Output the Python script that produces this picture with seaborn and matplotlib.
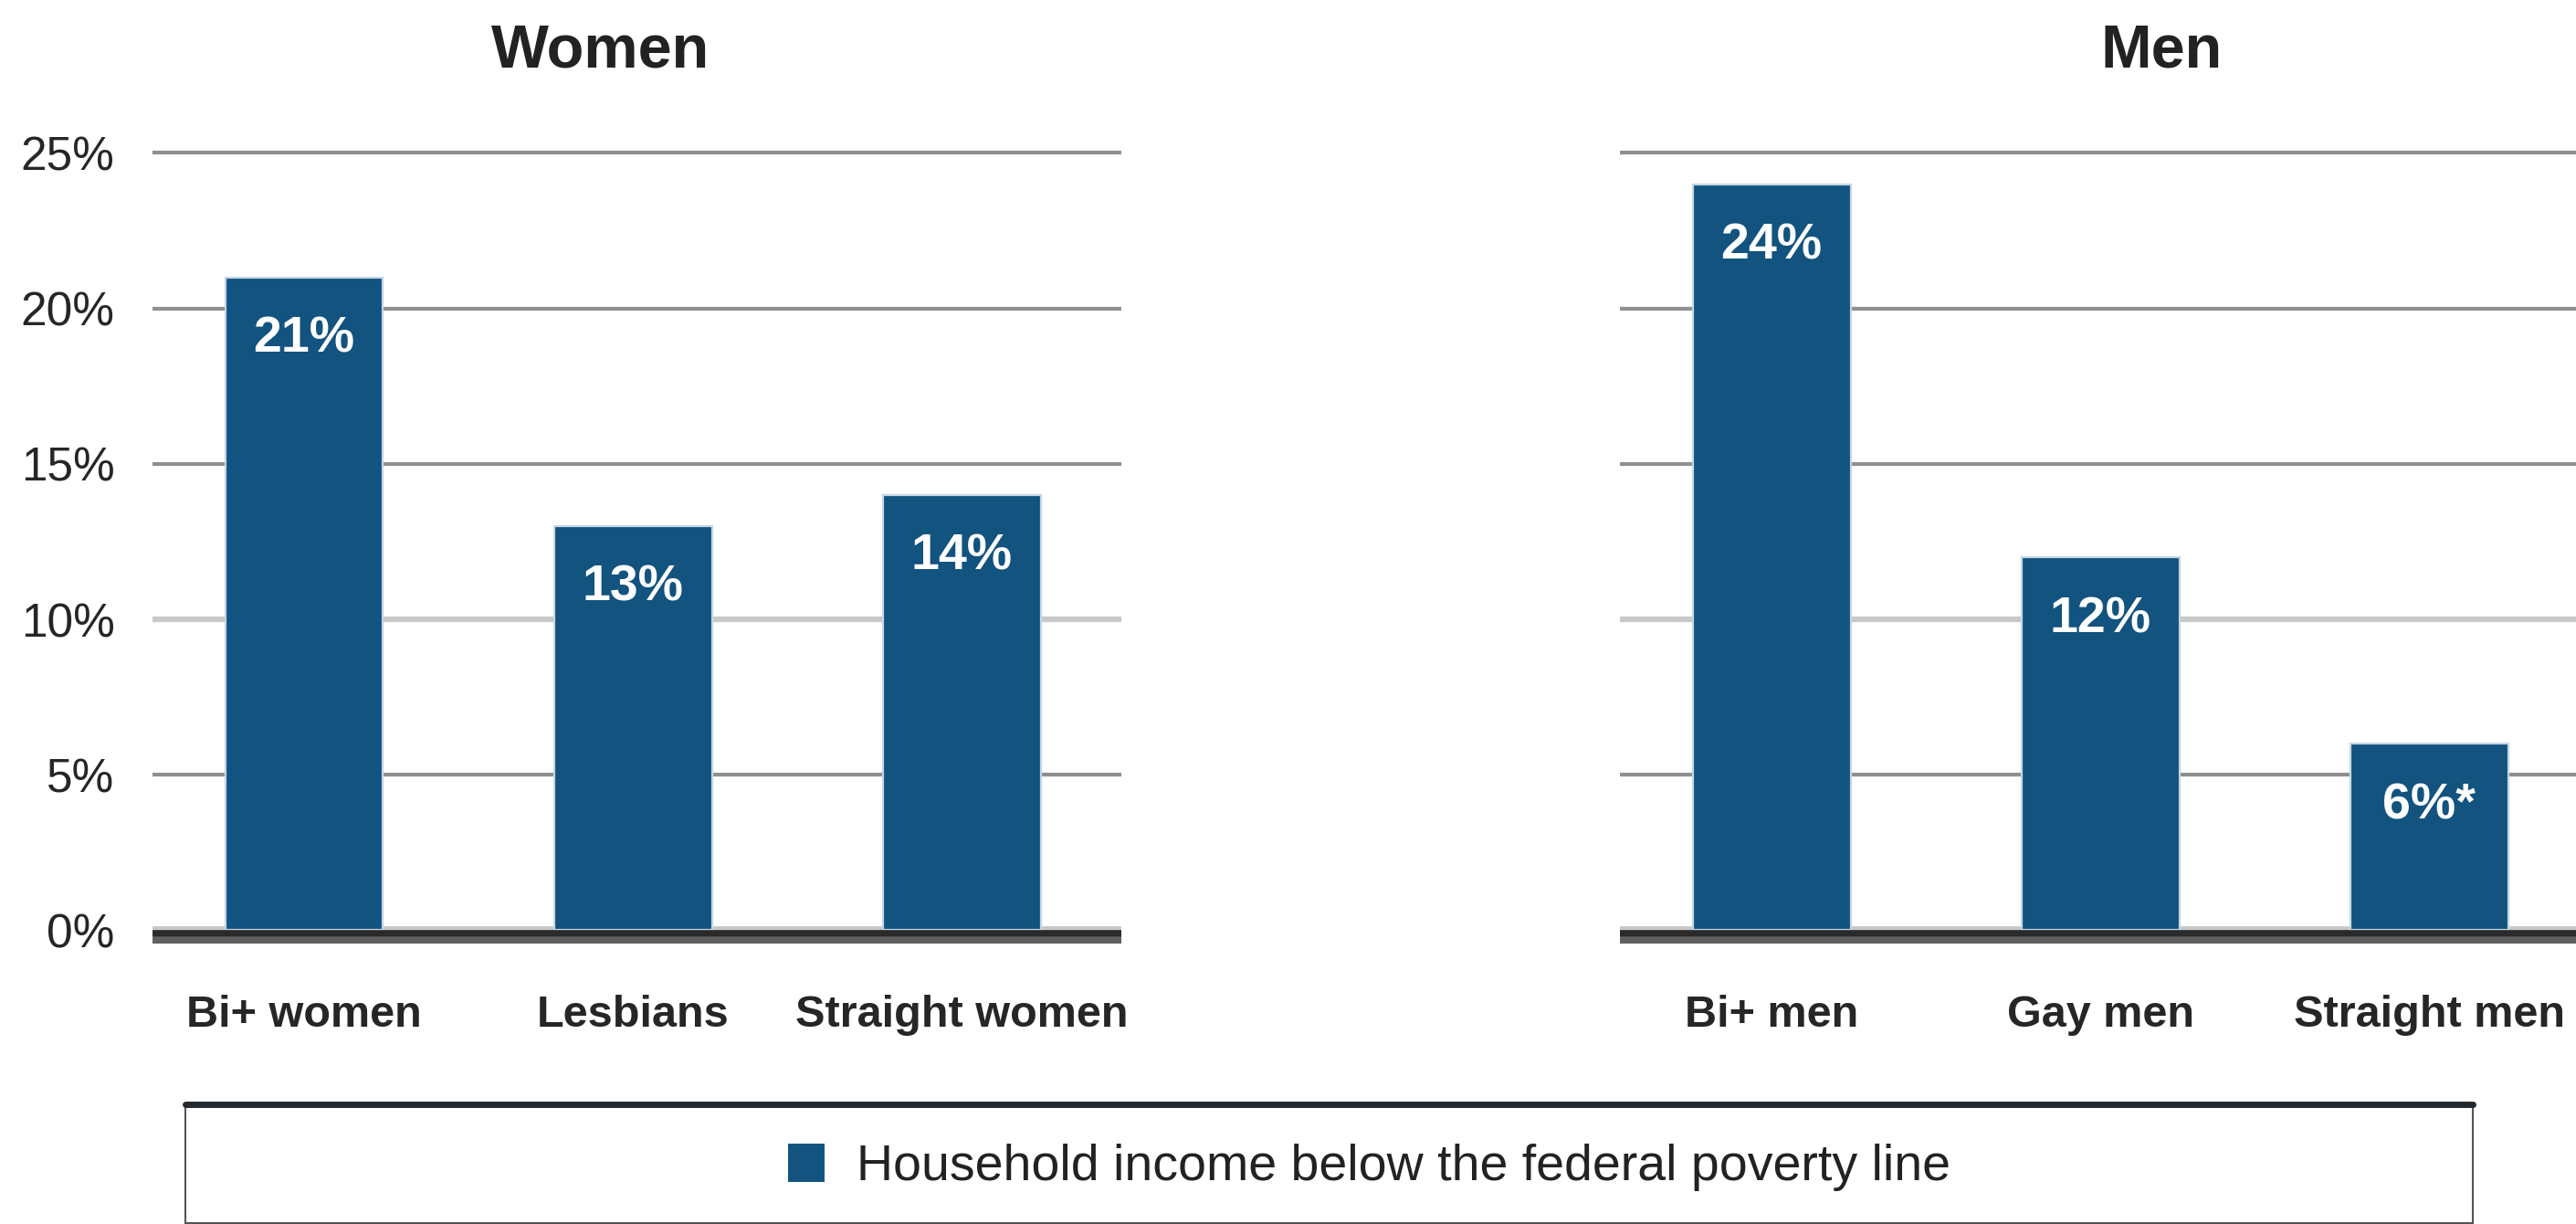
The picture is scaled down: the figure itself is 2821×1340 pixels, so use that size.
import pandas as pd
import matplotlib
matplotlib.use("Agg")
import matplotlib.pyplot as plt
from matplotlib.patches import Rectangle, Patch
from matplotlib.lines import Line2D
import seaborn as sns

women_groups = ["Bi+ women", "Lesbians", "Straight women"]
women_values = [21, 13, 14]
women_labels = ["21%", "13%", "14%"]

men_groups = ["Bi+ men", "Gay men", "Straight men"]
men_values = [24, 12, 6]
men_labels = ["24%", "12%", "6%*"]

y_ticks = [0, 5, 10, 15, 20, 25]
legend_label = "Household income below the federal poverty line"

BAR = "#12537f"
EDGE = "#c6d6e4"
FONT = ["Liberation Sans", "DejaVu Sans"]

sns.set_theme(style="white")
plt.rcParams["font.family"] = FONT
plt.rcParams["text.color"] = "#222222"

fig = plt.figure(figsize=(28.21, 13.40), dpi=100)

y0, y1 = -0.6, 25.4
unit = 0.635 / 25
ax_bottom = 0.240 + y0 * unit
ax_height = (y1 - y0) * unit
ax_w = 0.376
ax_left = fig.add_axes([0.0593, ax_bottom, ax_w, ax_height])
ax_right = fig.add_axes([0.629, ax_bottom, ax_w, ax_height])


def draw_panel(ax, groups, values, labels, show_y):
    df = pd.DataFrame({"group": groups, "value": values})
    sns.barplot(data=df, x="group", y="value", ax=ax, color=BAR, width=0.48,
                saturation=1, edgecolor=EDGE, linewidth=1.6, zorder=3)
    ax.set_xlim(-0.46, 2.485)
    ax.set_ylim(y0, y1)
    for y in y_ticks[1:]:
        if y == 10:
            ax.axhline(y, color="#c8c8c8", lw=4.5, zorder=1)
        else:
            ax.axhline(y, color="#8f8f8f", lw=3.0, zorder=1)
    # baseline: light band, dark line, grey shadow
    ax.axhline(0.07, color="#c8c8c8", lw=3.5, zorder=1)
    ax.axhline(-0.10, color="#2a2a2a", lw=5.5, zorder=4)
    ax.axhline(-0.32, color="#5f5f5f", lw=5.0, zorder=4)

    for bar, lab in zip(ax.patches, labels):
        ax.annotate(lab, (bar.get_x() + bar.get_width() / 2, bar.get_height()),
                    xytext=(0, -49), textcoords="offset points",
                    ha="center", va="center", color="white",
                    fontsize=40, fontweight="bold", zorder=5)

    ax.set_xlabel("")
    ax.set_ylabel("")
    ax.tick_params(axis="x", length=0, pad=36, labelsize=35)
    for t in ax.get_xticklabels():
        t.set_fontweight("bold")
    if show_y:
        ax.set_yticks(y_ticks)
        ax.set_yticklabels([f"{v}%" for v in y_ticks])
        ax.tick_params(axis="y", length=0, pad=30, labelsize=37)
    else:
        ax.set_yticks([])
    for s in ax.spines.values():
        s.set_visible(False)
    ax.set_facecolor("none")


draw_panel(ax_left, women_groups, women_values, women_labels, True)
draw_panel(ax_right, men_groups, men_values, men_labels, False)

fig.text(0.233, 0.958, "Women", ha="center", va="center",
         fontsize=48, fontweight="bold")
fig.text(0.839, 0.958, "Men", ha="center", va="center",
         fontsize=48, fontweight="bold")

# legend box
fig.patches.append(Rectangle((0.072, 0.001), 0.888, 0.097, transform=fig.transFigure,
                             facecolor="white", edgecolor="#555555", lw=1.5))
fig.lines.append(Line2D([0.072, 0.960], [0.098, 0.098], transform=fig.transFigure,
                        color="#23292e", lw=5))
handle = Patch(facecolor=BAR, edgecolor=BAR, linewidth=5, joinstyle="round")
fig.legend([handle], [legend_label], loc="center", bbox_to_anchor=(0.532, 0.046),
           frameon=False, fontsize=40, handlelength=0.6, handleheight=0.6,
           handletextpad=0.7)

fig.savefig("out.png", dpi=100)
